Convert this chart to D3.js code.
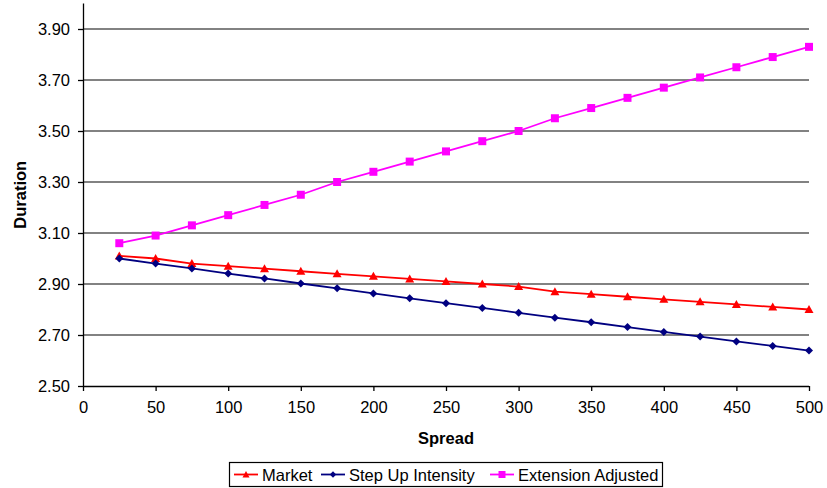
<!DOCTYPE html>
<html>
<head>
<meta charset="utf-8">
<script src="https://cdn.jsdelivr.net/npm/d3@7"></script>
<style>
  html, body { margin: 0; padding: 0; background: #fff; }
  svg { display: block; font-family: "Liberation Sans", Arial, sans-serif; }
</style>
</head>
<body>
<svg id="chart" width="827" height="488"></svg>
<script>
const spreads = [25, 50, 75, 100, 125, 150, 175, 200, 225, 250, 275, 300, 325, 350, 375, 400, 425, 450, 475, 500];
const market = [3.01, 3.00, 2.98, 2.97, 2.96, 2.95, 2.94, 2.93, 2.92, 2.91, 2.90, 2.89, 2.87, 2.86, 2.85, 2.84, 2.83, 2.82, 2.81, 2.80];
const stepUp = [3.000, 2.980, 2.961, 2.941, 2.922, 2.902, 2.883, 2.863, 2.844, 2.825, 2.806, 2.787, 2.768, 2.750, 2.731, 2.712, 2.694, 2.675, 2.657, 2.639];
const extension = [3.06, 3.09, 3.13, 3.17, 3.21, 3.25, 3.30, 3.34, 3.38, 3.42, 3.46, 3.50, 3.55, 3.59, 3.63, 3.67, 3.71, 3.75, 3.79, 3.83];
const seriesNames = ["Market", "Step Up Intensity", "Extension Adjusted"];
const yTicks = [2.50, 2.70, 2.90, 3.10, 3.30, 3.50, 3.70, 3.90];
const xTicks = [0, 50, 100, 150, 200, 250, 300, 350, 400, 450, 500];

const series = [
  { name: seriesNames[0], values: market, color: "#FF0000", marker: "triangle" },
  { name: seriesNames[1], values: stepUp, color: "#000080", marker: "diamond" },
  { name: seriesNames[2], values: extension, color: "#FF00FF", marker: "square" }
];

const svg = d3.select("#chart");
const pLeft = 83, pRight = 809, pTop = 3.5, pBottom = 386;
const x = d3.scaleLinear().domain([0, 500]).range([pLeft, pRight]);
const y = d3.scaleLinear().domain([2.5, 4.0]).range([pBottom, pTop]);

// gridlines
svg.append("g").selectAll("line").data(yTicks.filter(d => d > 2.5)).join("line")
  .attr("x1", pLeft).attr("x2", pRight)
  .attr("y1", d => y(d)).attr("y2", d => y(d))
  .attr("stroke", "#595959").attr("stroke-width", 1.3);

// y axis
const yAxis = svg.append("g").attr("transform", `translate(${pLeft},0)`)
  .call(d3.axisLeft(y).tickValues(yTicks).tickFormat(d3.format(".2f")).tickSize(5).tickPadding(8));
yAxis.select(".domain").attr("stroke", "#000").attr("stroke-width", 1.3).attr("d", `M0.5,${pTop}V${pBottom}`);
yAxis.selectAll(".tick line").attr("stroke", "#000").attr("stroke-width", 1.3);
yAxis.selectAll("text").attr("font-size", "16.5px").attr("fill", "#000")
  .attr("font-family", "Liberation Sans, Arial, sans-serif");

// x axis
const xAxis = svg.append("g").attr("transform", `translate(0,${pBottom})`)
  .call(d3.axisBottom(x).tickValues(xTicks).tickFormat(d3.format("d")).tickSize(5).tickPadding(10));
xAxis.select(".domain").attr("stroke", "#000").attr("stroke-width", 1.3).attr("d", `M${pLeft},0.5H${pRight}`);
xAxis.selectAll(".tick line").attr("stroke", "#000").attr("stroke-width", 1.3);
xAxis.selectAll("text").attr("font-size", "16.5px").attr("fill", "#000")
  .attr("font-family", "Liberation Sans, Arial, sans-serif");

// axis titles
svg.append("text").attr("x", (pLeft + pRight) / 2).attr("y", 444)
  .attr("text-anchor", "middle").attr("font-weight", "bold").attr("font-size", "16.5px").text("Spread");
svg.append("text").attr("transform", `translate(26,${(pTop + pBottom) / 2}) rotate(-90)`)
  .attr("text-anchor", "middle").attr("font-weight", "bold").attr("font-size", "16.5px").text("Duration");

function markerPath(type, small) {
  if (type === "triangle") return small ? "M0,-3.5L3.5,3L-3.5,3Z" : "M0,-4.5L4.5,3.5L-4.5,3.5Z";
  if (type === "diamond") return small ? "M0,-3.2L3.2,0L0,3.2L-3.2,0Z" : "M0,-4L4,0L0,4L-4,0Z";
  return small ? "M-3.5,-3.5H3.5V3.5H-3.5Z" : "M-4,-4H4V4H-4Z";
}

const line = d3.line().x((d, i) => x(spreads[i])).y(d => y(d));
series.forEach(s => {
  const g = svg.append("g");
  g.append("path").attr("d", line(s.values)).attr("fill", "none")
    .attr("stroke", s.color).attr("stroke-width", 1.8);
  g.selectAll("path.m").data(s.values).join("path").attr("class", "m")
    .attr("transform", (d, i) => `translate(${x(spreads[i])},${y(d)})`)
    .attr("d", markerPath(s.marker, false)).attr("fill", s.color);
});

// legend
const lg = svg.append("g");
lg.append("rect").attr("x", 229.5).attr("y", 462.5).attr("width", 433).attr("height", 24)
  .attr("fill", "#fff").attr("stroke", "#000").attr("stroke-width", 1.2);
const legendX = [234, 321, 490];
series.forEach((s, i) => {
  const lx = legendX[i], ly = 474.5;
  lg.append("line").attr("x1", lx).attr("x2", lx + 24).attr("y1", ly).attr("y2", ly)
    .attr("stroke", s.color).attr("stroke-width", 1.8);
  lg.append("path").attr("transform", `translate(${lx + 12},${ly})`)
    .attr("d", markerPath(s.marker, true)).attr("fill", s.color);
  lg.append("text").attr("x", lx + 28).attr("y", ly + 6).attr("font-size", "16.5px").text(s.name);
});
</script>
</body>
</html>
